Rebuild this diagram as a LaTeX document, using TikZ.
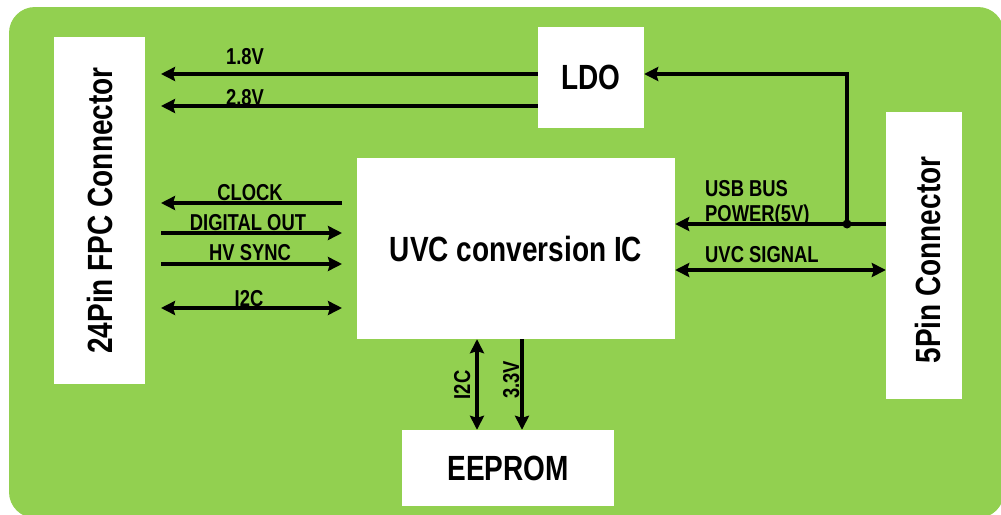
\documentclass[tikz,border=0pt]{standalone}
\usepackage{fontspec}
\setmainfont{Liberation Sans}
\newfontfamily\labfont[FakeStretch=0.8]{Liberation Sans}
\usetikzlibrary{arrows.meta}
\definecolor{bggreen}{RGB}{146,208,80}
\newcommand\bigf{\labfont\bfseries\fontsize{35}{40}\selectfont}
\newcommand\smallf{\labfont\bfseries\fontsize{23}{26}\selectfont}
\begin{document}
\begin{tikzpicture}[x=1pt,y=-1pt,
  box/.style={fill=white,inner sep=0pt,font=\bigf},
  conn/.style={line width=4pt,draw=black},
  lbl/.style={inner sep=0pt,font=\smallf,anchor=base},
  >={Stealth[length=14pt,width=14pt,inset=2pt]}]
\useasboundingbox (0,0) rectangle (1001,514);
\begin{scope}
\clip (0,0) rectangle (1001,514);
\fill[bggreen,rounded corners=26pt] (9,7) rectangle (1004,518);
\end{scope}

% boxes
\node[box,minimum width=91pt,minimum height=347pt] (fpc) at (99.5,210.5) {\rotatebox{90}{24Pin FPC Connector}};
\node[box,minimum width=106pt,minimum height=101pt] (ldo) at (591,77.5) {LDO};
\node[box,minimum width=318pt,minimum height=181pt] (ic) at (516,248.5) {UVC conversion IC};
\node[box,minimum width=76pt,minimum height=287pt] (pin) at (924,255.5) {};
\node[inner sep=0pt,font=\bigf,rotate=90] (pintxt) at (928,260) {5Pin Connector};
\node[box,minimum width=212pt,minimum height=76pt] (eep) at (508,468) {EEPROM};

% free ends
\coordinate (t18) at (161,74);
\coordinate (t28) at (161,106);
\coordinate (lclk) at (161,203);
\coordinate (rclk) at (342,203);
\coordinate (ldig) at (161,233);
\coordinate (rdig) at (342,233);
\coordinate (lhv) at (161,264);
\coordinate (rhv) at (342,264);
\coordinate (li2c) at (161,308);
\coordinate (ri2c) at (342,308);
\coordinate (junc) at (847,224);

% LDO outputs
\draw[conn,->] (ldo.west |- t18) -- (t18);
\draw[conn,->] (ldo.west |- t28) -- (t28);
\node[lbl] (l18) at (245,64) {1.8V};
\node[lbl] (l28) at (245,105) {2.8V};

% left signals
\draw[conn,->] (rclk) -- (lclk);
\draw[conn,->] (ldig) -- (rdig);
\draw[conn,->] (lhv) -- (rhv);
\draw[conn,<->] (li2c) -- (ri2c);
\node[lbl] (lclock) at (250,200.5) {CLOCK};
\node[lbl] (ldigital) at (248,230) {DIGITAL OUT};
\node[lbl] (lhvs) at (250,260) {HV SYNC};
\node[lbl] (li2ct) at (249,306) {I2C};

% right side
\draw[conn,->] (pin.west |- junc) -- (ic.east |- junc);
\draw[conn,->] (junc) -- (junc |- t18) -- (ldo.east |- t18);
\fill (junc) circle (4.5pt);
\draw[conn,<->] (ic.east |- 0,270) -- (pin.west |- 0,270);
\node[lbl,anchor=base west] (lusb) at (705,196) {USB BUS};
\node[lbl,anchor=base west] (lpow) at (705,221) {POWER(5V)};
\node[lbl,anchor=base west] (luvc) at (705,262) {UVC SIGNAL};

% EEPROM links
\draw[conn,<->] (ic.south -| 477,0) -- (eep.north -| 477,0);
\draw[conn,->] (ic.south -| 522,0) -- (eep.north -| 522,0);
\node[lbl,rotate=90] (le2c) at (470,385) {I2C};
\node[lbl,rotate=90] (l33) at (519,380) {3.3V};
\end{tikzpicture}
\end{document}
